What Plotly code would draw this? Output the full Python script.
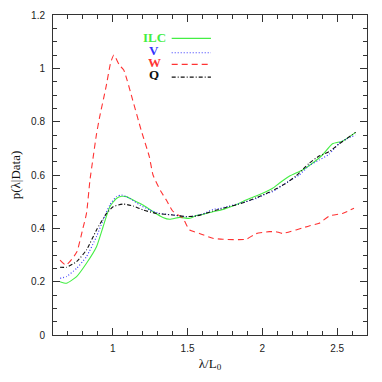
import plotly.graph_objects as go

# ---- data ----
ilc_x = [0.647, 0.69, 0.758, 0.824, 0.891, 0.935, 0.98, 1.024, 1.06, 1.09, 1.158, 1.202, 1.269,
         1.335, 1.38, 1.447, 1.513, 1.558, 1.60, 1.669, 1.72, 1.78, 1.84, 1.891, 1.958, 2.024,
         2.069, 2.113, 2.18, 2.269, 2.335, 2.402, 2.469, 2.536, 2.624]
ilc_y = [0.200, 0.194, 0.219, 0.269, 0.331, 0.406, 0.481, 0.512, 0.520, 0.519, 0.500, 0.4875, 0.4625,
         0.441, 0.434, 0.441, 0.4375, 0.448, 0.452, 0.4625, 0.468, 0.479, 0.492, 0.506, 0.521, 0.5375,
         0.550, 0.569, 0.595, 0.619, 0.644, 0.675, 0.717, 0.727, 0.760]

v_x = [0.647, 0.69, 0.758, 0.824, 0.891, 0.935, 0.98, 1.024, 1.058, 1.113, 1.18, 1.247, 1.313,
       1.402, 1.491, 1.558, 1.62, 1.669, 1.72, 1.78, 1.84, 1.891, 1.96, 2.024, 2.069, 2.13, 2.18,
       2.247, 2.313, 2.38, 2.447, 2.513, 2.558, 2.624]
v_y = [0.2125, 0.219, 0.250, 0.294, 0.369, 0.431, 0.4875, 0.519, 0.525, 0.5125, 0.4875, 0.469, 0.456,
       0.450, 0.444, 0.447, 0.458, 0.471, 0.475, 0.484, 0.492, 0.500, 0.512, 0.529, 0.5375, 0.560, 0.578,
       0.600, 0.635, 0.656, 0.678, 0.719, 0.734, 0.750]

w_x = [0.647, 0.687, 0.758, 0.80, 0.824, 0.847, 0.867, 0.89, 0.911, 0.955, 0.985, 1.007, 1.044,
       1.073, 1.133, 1.189, 1.244, 1.269, 1.32, 1.358, 1.40, 1.469, 1.513, 1.58, 1.669, 1.736,
       1.891, 1.958, 2.047, 2.091, 2.135, 2.313, 2.38, 2.447, 2.536, 2.613]
w_y = [0.281, 0.262, 0.310, 0.400, 0.456, 0.580, 0.660, 0.750, 0.815, 0.931, 1.020, 1.050, 1.012,
       0.994, 0.881, 0.769, 0.669, 0.600, 0.540, 0.506, 0.465, 0.4375, 0.394, 0.381, 0.3625, 0.359,
       0.359, 0.380, 0.3875, 0.3875, 0.381, 0.409, 0.419, 0.446, 0.456, 0.475]

q_x = [0.647, 0.69, 0.758, 0.824, 0.891, 0.958, 1.002, 1.069, 1.135, 1.202, 1.291, 1.402, 1.491,
       1.558, 1.62, 1.669, 1.72, 1.78, 1.84, 1.891, 1.96, 2.024, 2.08, 2.15, 2.224, 2.313, 2.38,
       2.447, 2.513, 2.624]
q_y = [0.254, 0.254, 0.275, 0.319, 0.394, 0.456, 0.481, 0.491, 0.484, 0.469, 0.456, 0.450, 0.444,
       0.446, 0.456, 0.465, 0.472, 0.482, 0.490, 0.500, 0.515, 0.530, 0.545, 0.566, 0.596, 0.644, 0.671,
       0.6875, 0.716, 0.760]

legend_labels = ["ILC", "V", "W", "Q"]

GREEN = "#44ee44"
BLUE = "#3333ff"
RED = "#ff3333"
BLACK = "#111111"

series = [
    (ilc_x, ilc_y, GREEN, "solid"),
    (v_x, v_y, BLUE, "1px,2px"),
    (w_x, w_y, RED, "6px,4px"),
    (q_x, q_y, BLACK, "4px,2px,1px,2px"),
]

fig = go.Figure()
for (xs, ys, col, dash), name in zip(series, legend_labels):
    fig.add_trace(go.Scatter(x=xs, y=ys, mode="lines", name=name,
                             line=dict(color=col, width=1.1, dash=dash, shape="spline", smoothing=0.5),
                             showlegend=False, hoverinfo="skip"))

# custom legend: label centred, line sample to the right
leg_text_y = [0.9297, 0.8906, 0.8516, 0.8156]
leg_line_y = [0.927, 0.882, 0.846, 0.806]
for (xs, ys, col, dash), name, ty, ly in zip(series, legend_labels, leg_text_y, leg_line_y):
    fig.add_annotation(x=0.3217, y=ty, xref="paper", yref="paper", text="<b>%s</b>" % name,
                       showarrow=False, xanchor="center", yanchor="middle", height=11, borderpad=0,
                       font=dict(family="Liberation Serif", size=13, color=col))
    fig.add_shape(type="line", xref="paper", yref="paper", x0=0.378, x1=0.503, y0=ly, y1=ly,
                  line=dict(color=col, width=1.2, dash=dash))

axis_common = dict(
    showgrid=False, zeroline=False, showline=True, linecolor="#333333", linewidth=1,
    mirror="ticks", ticks="inside", tickcolor="#333333", tickwidth=1, ticklen=7,
    tickfont=dict(family="Liberation Sans", size=10, color="#222222"), automargin=False,
)

fig.update_xaxes(range=[0.6, 2.7], dtick=0.5, tick0=0,
                 minor=dict(dtick=0.1, tick0=0, ticks="inside", ticklen=4, tickcolor="#333333"),
                 title=dict(text="λ/L<sub>0</sub>", font=dict(family="Liberation Serif", size=13, color="#111111"),
                            standoff=5),
                 ticklabelstandoff=4,
                 **axis_common)
fig.update_yaxes(range=[0, 1.2], dtick=0.2, tick0=0, tickformat="~g",
                 minor=dict(dtick=0.05, tick0=0, ticks="inside", ticklen=4, tickcolor="#333333"),
                 title=dict(text="p(λ|Data)", font=dict(family="Liberation Serif", size=13, color="#111111"),
                            standoff=12),
                 ticklabelstandoff=5,
                 **axis_common)

# the page body adds an 8px offset, so the figure is 374px with reduced left/top margins
fig.update_layout(
    width=374, height=374,
    margin=dict(l=45, r=15, t=7, b=47),
    paper_bgcolor="white", plot_bgcolor="white",
)

fig.write_html("out.html")
